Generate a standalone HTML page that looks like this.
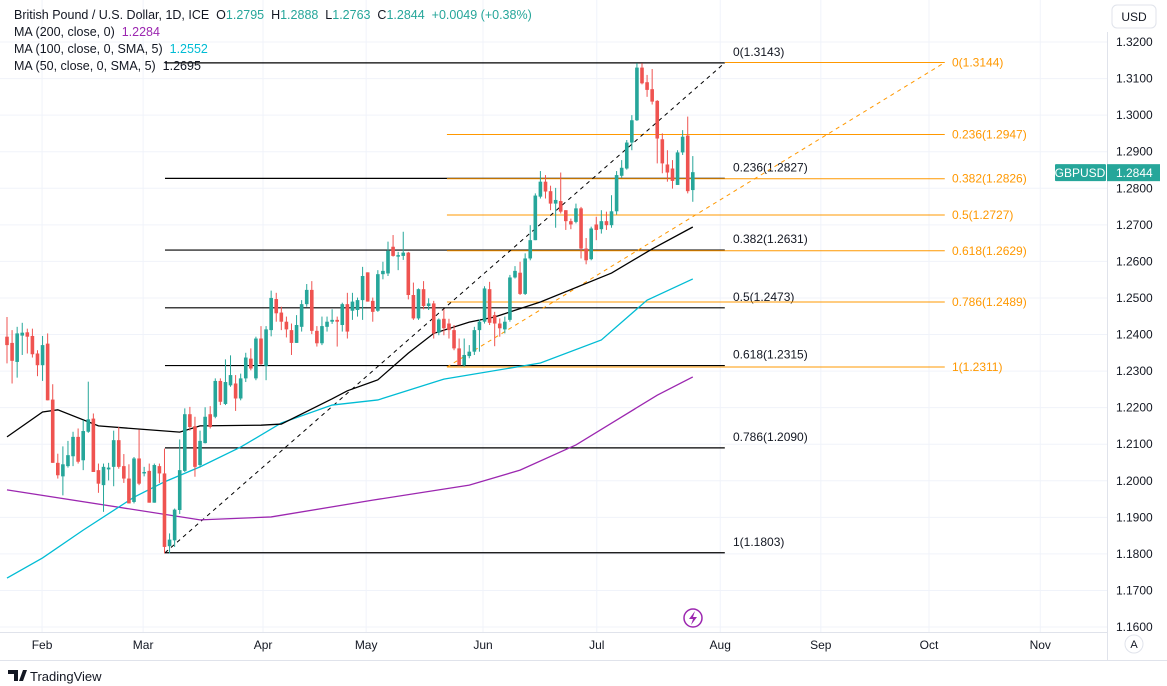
<!DOCTYPE html>
<html><head><meta charset="utf-8"><style>
body{margin:0;background:#fff;font-family:"Liberation Sans",sans-serif;}
#wrap{position:relative;width:1167px;height:686px;overflow:hidden;}
svg text{font-family:"Liberation Sans",sans-serif;}
.lg{position:absolute;left:14px;font-size:12.5px;color:#131722;white-space:nowrap;}
</style></head><body>
<div id="wrap">
<svg id="c" width="1167" height="686"></svg>
<div class="lg" style="top:8px">British Pound / U.S. Dollar, 1D, ICE&nbsp; O<span style="color:#26a69a">1.2795</span>&nbsp; H<span style="color:#26a69a">1.2888</span>&nbsp; L<span style="color:#26a69a">1.2763</span>&nbsp; C<span style="color:#26a69a">1.2844</span>&nbsp; <span style="color:#26a69a">+0.0049 (+0.38%)</span></div>
<div class="lg" style="top:25px">MA (200, close, 0)&nbsp; <span style="color:#9c27b0">1.2284</span></div>
<div class="lg" style="top:42px">MA (100, close, 0, SMA, 5)&nbsp; <span style="color:#00bcd4">1.2552</span></div>
<div class="lg" style="top:59px">MA (50, close, 0, SMA, 5)&nbsp; 1.2695</div>
</div>
<script>
const opens=[1.2394,1.2377,1.2325,1.2397,1.2406,1.2396,1.2348,1.2316,1.2375,1.2222,1.2049,1.2012,1.2040,1.2067,1.2120,1.2056,1.2134,1.2170,1.2029,1.1988,1.2031,1.2038,1.2111,1.2040,1.2006,1.1942,1.2061,1.2020,1.2027,1.1940,1.2040,1.2020,1.1821,1.1837,1.1920,1.2027,1.2182,1.2149,1.2043,1.2103,1.2182,1.2175,1.2273,1.2210,1.2261,1.2266,1.2225,1.2280,1.2334,1.2280,1.2389,1.2314,1.2412,1.2497,1.2460,1.2435,1.2412,1.2377,1.2421,1.2483,1.2522,1.2410,1.2376,1.2421,1.2435,1.2440,1.2426,1.2483,1.2465,1.2467,1.2494,1.2570,1.2492,1.2465,1.2565,1.2567,1.2640,1.2613,1.2615,1.2624,1.2508,1.2444,1.2524,1.2478,1.2485,1.2405,1.2443,1.2430,1.2412,1.2362,1.2316,1.2341,1.2353,1.2412,1.2435,1.2524,1.2453,1.2430,1.2414,1.2440,1.2556,1.2569,1.2511,1.2608,1.2658,1.2777,1.2818,1.2792,1.2758,1.2765,1.2740,1.2710,1.2708,1.2745,1.2635,1.2606,1.2701,1.2688,1.2710,1.2699,1.2737,1.2834,1.2854,1.2925,1.2986,1.3130,1.3090,1.3071,1.3039,1.2934,1.2865,1.2854,1.2809,1.2898,1.2944,1.2795];
const closes=[1.2371,1.2328,1.2403,1.2405,1.2394,1.2346,1.2316,1.2371,1.2220,1.2049,1.2015,1.2045,1.2070,1.2120,1.2052,1.2136,1.2168,1.2024,1.1992,1.2038,1.2036,1.2111,1.2038,1.2006,1.1938,1.2061,1.1992,1.2024,1.1940,1.2043,1.2020,1.1819,1.1839,1.1921,1.2029,1.2182,1.2147,1.2038,1.2109,1.2175,1.2147,1.2273,1.2216,1.2270,1.2289,1.2225,1.2280,1.2337,1.2307,1.2389,1.2319,1.2414,1.2500,1.2458,1.2435,1.2414,1.2377,1.2426,1.2483,1.2522,1.2410,1.2376,1.2423,1.2435,1.2440,1.2435,1.2483,1.2408,1.2490,1.2494,1.2560,1.2490,1.2462,1.2565,1.2574,1.2629,1.2615,1.2617,1.2624,1.2508,1.2444,1.2524,1.2478,1.2485,1.2403,1.2441,1.2417,1.2412,1.2362,1.2316,1.2344,1.2353,1.2412,1.2435,1.2526,1.2432,1.2430,1.2417,1.2435,1.2556,1.2574,1.2511,1.2608,1.2658,1.2780,1.2818,1.2791,1.2758,1.2768,1.2736,1.2710,1.2701,1.2745,1.2635,1.2603,1.2690,1.2686,1.2710,1.2699,1.2737,1.2836,1.2856,1.2925,1.2986,1.3130,1.3087,1.3069,1.3037,1.2936,1.2868,1.2843,1.2820,1.2898,1.2941,1.2792,1.2844];
const highs=[1.2448,1.2412,1.2421,1.2432,1.2416,1.2416,1.2357,1.2396,1.2403,1.2264,1.2074,1.2094,1.2109,1.2134,1.2143,1.2166,1.2271,1.2184,1.2047,1.2047,1.2049,1.2137,1.2147,1.2073,1.2045,1.2065,1.2140,1.2038,1.2047,1.2047,1.2047,1.2088,1.1856,1.1924,1.2113,1.2198,1.2202,1.2175,1.2137,1.2201,1.2204,1.2280,1.2280,1.2332,1.2343,1.2289,1.2293,1.2350,1.2362,1.2394,1.2423,1.2423,1.2520,1.2514,1.2476,1.2449,1.2430,1.2453,1.2494,1.2538,1.2546,1.2423,1.2449,1.2449,1.2469,1.2449,1.2487,1.2514,1.2514,1.2501,1.2585,1.2570,1.2501,1.2576,1.2599,1.2654,1.2672,1.2626,1.2681,1.2626,1.2542,1.2526,1.2546,1.2499,1.2492,1.2444,1.2469,1.2443,1.2426,1.2389,1.2389,1.2371,1.2421,1.2441,1.2532,1.2544,1.2462,1.2444,1.2449,1.2563,1.2587,1.2599,1.2622,1.2699,1.2786,1.2847,1.2836,1.2807,1.2801,1.2843,1.2740,1.2717,1.2758,1.2749,1.2664,1.2695,1.2722,1.2740,1.2736,1.2781,1.2847,1.2877,1.2932,1.3000,1.3142,1.3142,1.3110,1.3126,1.3041,1.2950,1.2904,1.2877,1.2904,1.2959,1.2996,1.2888];
const lows=[1.2321,1.2266,1.2282,1.2344,1.2348,1.2337,1.2286,1.2273,1.2220,1.2049,1.2006,1.1960,1.2036,1.2040,1.2047,1.2029,1.2131,1.2024,1.1967,1.1915,1.2001,1.1985,1.2033,1.1994,1.1938,1.1938,1.1988,1.2012,1.1940,1.1940,1.1994,1.1801,1.1801,1.1819,1.1909,1.2024,1.2137,1.2011,1.2036,1.2102,1.2143,1.2171,1.2207,1.2207,1.2257,1.2191,1.2220,1.2270,1.2302,1.2275,1.2316,1.2275,1.2395,1.2435,1.2412,1.2392,1.2344,1.2377,1.2408,1.2476,1.2401,1.2367,1.2371,1.2408,1.2429,1.2367,1.2408,1.2389,1.2440,1.2449,1.2440,1.2490,1.2435,1.2462,1.2551,1.2560,1.2613,1.2576,1.2604,1.2496,1.2440,1.2440,1.2469,1.2467,1.2389,1.2398,1.2398,1.2389,1.2357,1.2316,1.2312,1.2335,1.2344,1.2353,1.2430,1.2426,1.2368,1.2394,1.2403,1.2435,1.2553,1.2508,1.2508,1.2603,1.2658,1.2772,1.2772,1.2740,1.2692,1.2731,1.2686,1.2688,1.2704,1.2608,1.2592,1.2603,1.2658,1.2676,1.2686,1.2692,1.2728,1.2829,1.2851,1.2904,1.2984,1.3084,1.3050,1.3029,1.2868,1.2841,1.2818,1.2799,1.2809,1.2891,1.2786,1.2763];
const ma200Idx=[0,38,52,72,91,101,112,120,128,135];
const ma200=[1.1975,1.1893,1.1901,1.1947,1.1988,1.2029,1.2098,1.2166,1.2234,1.2284];
const ma100Idx=[0,7,15,25,31,38,46,54,64,73,86,105,117,126,135];
const ma100=[1.1734,1.1789,1.1865,1.1955,1.1997,1.2038,1.2092,1.2158,1.2207,1.2221,1.2278,1.2322,1.2385,1.2494,1.2552];
const ma50Idx=[0,7,10,18,34,38,50,54,64,67,73,79,84,91,96,105,119,127,135];
const ma50=[1.2120,1.2188,1.2194,1.2150,1.2133,1.2150,1.2152,1.2155,1.2224,1.2246,1.2276,1.2349,1.2403,1.2434,1.2448,1.2489,1.2568,1.2634,1.2694];
const fibRatios=["0","0.236","0.382","0.5","0.618","0.786","1"];
const fibBlack=[1.3143,1.2827,1.2631,1.2473,1.2315,1.2090,1.1803];
const fibOrange=[1.3144,1.2947,1.2826,1.2727,1.2629,1.2489,1.2311];
const priceTicks=[1.32,1.31,1.30,1.29,1.28,1.27,1.26,1.25,1.24,1.23,1.22,1.21,1.20,1.19,1.18,1.17,1.16];
const monthLabels=["Feb","Mar","Apr","May","Jun","Jul","Aug","Sep","Oct","Nov"];
const monthIdx=[6.9,26.8,50.4,70.7,93.7,116.1,140.4,160.2,181.5,203.4];

const NS="http://www.w3.org/2000/svg",svg=document.getElementById('c');
const X=i=>7+i*5.08, Y=p=>42+(1.32-p)*3656.25;
function el(t,a,txt){const e=document.createElementNS(NS,t);for(const k in a)e.setAttribute(k,a[k]);if(txt!=null)e.textContent=txt;svg.appendChild(e);return e;}
// grid
priceTicks.forEach(p=>{const g=el('line',{x1:0,x2:1107,y1:Y(p),y2:Y(p),stroke:'#f0f3fa'});

});
monthIdx.forEach(i=>{const g=el('line',{x1:X(i),x2:X(i),y1:0,y2:632,stroke:'#f0f3fa'});

});
// fib black
const bx1=X(31.1),bx2=X(141.3),ox1=X(86.6),ox2=X(184.6);
fibBlack.forEach((p,k)=>{const l=el('line',{x1:bx1,x2:bx2,y1:Y(p),y2:Y(p),stroke:'#000','stroke-width':1.2});


const t=el('text',{x:733,y:Y(p)-7,'font-size':12,fill:'#131722'},fibRatios[k]+'('+p.toFixed(4)+')');

});
fibOrange.forEach((p,k)=>{const l=el('line',{x1:k==0?bx2:ox1,x2:ox2,y1:Y(p),y2:Y(p),stroke:'#ff9800','stroke-width':1});


const t=el('text',{x:952,y:Y(p)+4,'font-size':12,fill:'#ff9800'},fibRatios[k]+'('+p.toFixed(4)+')');

});
let d1=el('line',{x1:bx1,y1:Y(fibBlack[6]),x2:bx2,y2:Y(fibBlack[0]),stroke:'#000','stroke-dasharray':'4 4'});


let d2=el('line',{x1:ox1,y1:Y(fibOrange[6]),x2:ox2,y2:Y(fibOrange[0]),stroke:'#ff9800','stroke-dasharray':'4 4'});


// MAs
function ma(idx,vals,col,name){const pts=idx.map((i,k)=>X(i)+','+Y(vals[k])).join(' ');
const p=el('polyline',{points:pts,fill:'none',stroke:col,'stroke-width':1.3});

}
ma(ma200Idx,ma200,'#9c27b0','ma200-line');
ma(ma100Idx,ma100,'#00bcd4','ma100-line');
ma(ma50Idx,ma50,'#000','ma50-line');
// candles
closes.forEach((c,i)=>{const o=opens[i],col=c>=o?'#26a69a':'#ef5350',x=X(i);
const w=el('line',{x1:x,x2:x,y1:Y(highs[i]),y2:Y(lows[i]),stroke:col,'stroke-width':1});


const top=Y(Math.max(o,c)),h=Math.max(1,Math.abs(Y(o)-Y(c)));
const b=el('rect',{x:x-1.8,y:top,width:3.6,height:h,fill:col});

});
// axes
let ax=el('line',{x1:1107.5,x2:1107.5,y1:32,y2:660,stroke:'#e0e3eb'});


let tx=el('line',{x1:0,x2:1107,y1:632.5,y2:632.5,stroke:'#e0e3eb'});


priceTicks.forEach(p=>{const t=el('text',{x:1116,y:Y(p)+4,'font-size':12,fill:'#131722'},p.toFixed(4));

});
monthLabels.forEach((m,k)=>{const t=el('text',{x:X(monthIdx[k]),y:649,'font-size':12,fill:'#131722','text-anchor':'middle'},m);

});
// price tags
let tg=el('rect',{x:1055,y:Y(closes[closes.length-1])-8,width:51,height:17,fill:'#26a69a',rx:1});


let tgt=el('text',{x:1080,y:Y(closes[closes.length-1])+5,'font-size':12,fill:'#fff','text-anchor':'middle'},'GBPUSD');


let pt=el('rect',{x:1107,y:Y(closes[closes.length-1])-8,width:53,height:17,fill:'#26a69a'});


let ptt=el('text',{x:1116,y:Y(closes[closes.length-1])+5,'font-size':12,fill:'#fff'},closes[closes.length-1].toFixed(4));


let ub=el('rect',{x:1112,y:5,width:44,height:23,rx:5,fill:'#fff',stroke:'#e0e3eb'});


let ut=el('text',{x:1134,y:21,'font-size':12,fill:'#131722','text-anchor':'middle'},'USD');


let ab=el('circle',{cx:1134,cy:644,r:9,fill:'#fff',stroke:'#e0e3eb'});


let at=el('text',{x:1134,y:648,'font-size':11,fill:'#131722','text-anchor':'middle'},'A');


let li=el('circle',{cx:693,cy:618,r:9,fill:'#fff',stroke:'#9c27b0','stroke-width':1.5});


let lz=el('path',{d:'M695 611 L689 619 L693 619 L691 625 L697 617 L693 617 Z',fill:'#9c27b0'});


let bl=el('line',{x1:0,x2:1167,y1:660.5,y2:660.5,stroke:'#e0e3eb'});


let lg=el('path',{d:'M8 670 h10 v11 h-4 v-7 h-6z M19 681 l4 -11 h4 l-4 11z',fill:'#131722'});


let lt=el('text',{x:30,y:681,'font-size':13,fill:'#131722'},'TradingView');


</script>
</body></html>
